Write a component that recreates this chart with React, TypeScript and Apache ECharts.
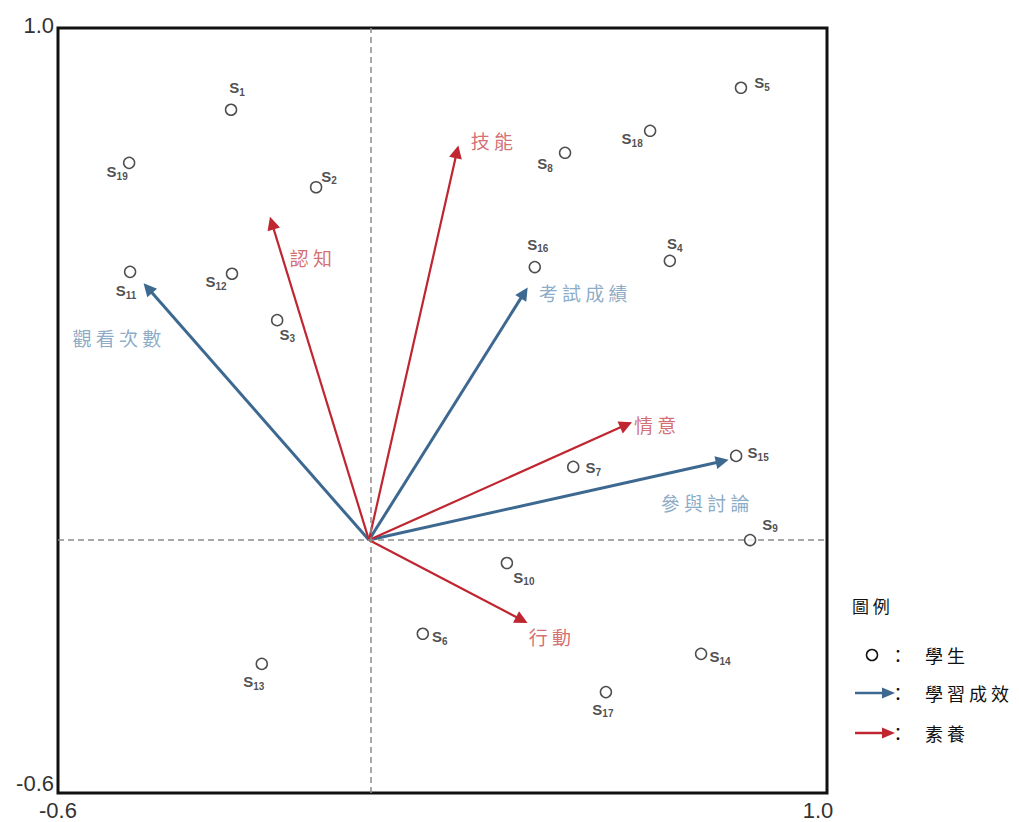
import React, { useEffect, useRef } from "react";
import * as echarts from "echarts";

// ---- axis ----
const axisMin = -0.6;
const axisMax = 1.0;
const axisTickLabels = [-0.6, 1.0];

// ---- reference origin of the vectors (where dashed lines cross) ----
const originX = 0.047;
const originY = -0.071;

// ---- students ----
const studentNames = ["S1", "S2", "S3", "S4", "S5", "S6", "S7", "S8", "S9", "S10", "S11", "S12", "S13", "S14", "S15", "S16", "S17", "S18", "S19"];
const studentX = [-0.240, -0.063, -0.144, 0.673, 0.821, 0.159, 0.472, 0.455, 0.840, 0.334, -0.450, -0.238, -0.176, 0.738, 0.811, 0.392, 0.540, 0.632, -0.452];
const studentY = [0.829, 0.667, 0.389, 0.513, 0.875, -0.267, 0.082, 0.739, -0.071, -0.119, 0.490, 0.486, -0.330, -0.309, 0.105, 0.500, -0.389, 0.785, 0.718];
// label placement (layout only, px offsets from the point)
const studentLabelOffset = [
  [6, -22], [13, -11], [10, 14], [5, -17], [21, -5], [17, 3], [20, 1], [-20, 11], [20, -16], [17, 14],
  [-4, 19], [-16, 8], [-8, 18], [19, 3], [22, -3], [3, -23], [-3, 17], [-18, 8], [-12, 9],
];

// ---- learning outcome vectors (blue) ----
const outcomeNames = ["觀看次數", "考試成績", "參與討論"];
const outcomeX = [-0.413, 0.370, 0.782];
const outcomeY = [0.456, 0.446, 0.094];
const outcomeLabelOffset = [[-31, 49], [59, 0], [-17, 41]];

// ---- literacy vectors (red) ----
const literacyNames = ["技能", "認知", "情意", "行動"];
const literacyX = [0.230, -0.155, 0.582, 0.365];
const literacyY = [0.741, 0.592, 0.170, -0.238];
const literacyLabelOffset = [[35, -11], [39, 34], [29, 0], [28, 17]];

// ---- legend ----
const legendTitle = "圖例";
const legendItems = ["學生", "學習成效", "素養"];

const BLUE = "#3d6890";
const RED = "#bf2630";
const BLUE_TXT = "#7096b8";
const RED_TXT = "#c94a4d";
const CJK = "'Noto Sans CJK TC', 'Noto Sans CJK SC', sans-serif";
const spaced = (s: string) => s.split("").join(" ");

export default function App() {
  const ref = useRef<HTMLDivElement>(null);
  useEffect(() => {
    if (!ref.current) return;
    const chart = echarts.init(ref.current, undefined, { renderer: "svg" });

    const studentData = studentNames.map((n, i) => ({
      value: [studentX[i], studentY[i]],
      name: n,
      label: { offset: studentLabelOffset[i] },
    }));

    const arrowSeries = (names: string[], xs: number[], ys: number[], color: string, width: number) => ({
      type: "lines",
      coordinateSystem: "cartesian2d",
      z: 3,
      silent: true,
      symbol: ["none", "triangle"],
      symbolSize: 13,
      lineStyle: { color, width, opacity: 1, curveness: 0 },
      data: names.map((n, i) => ({ name: n, coords: [[originX, originY], [xs[i], ys[i]]] })),
    });

    const arrowLabelSeries = (names: string[], xs: number[], ys: number[], offs: number[][], color: string) => ({
      type: "scatter",
      z: 6,
      silent: true,
      symbolSize: 1,
      itemStyle: { color: "rgba(0,0,0,0)" },
      label: {
        show: true,
        position: "inside",
        formatter: (p: any) => spaced(String(p.name)),
        color,
        fontFamily: CJK,
        fontSize: 19,
      },
      data: names.map((n, i) => ({ name: n, value: [xs[i], ys[i]], label: { offset: offs[i] } })),
    });

    const legendY = [655, 693, 733];
    const graphic: any[] = [
      { type: "text", left: 852, top: 597, style: { text: spaced(legendTitle), font: `17px ${CJK}`, fill: "#111" } },
      { type: "circle", shape: { cx: 872, cy: legendY[0], r: 5.5 }, style: { stroke: "#111", lineWidth: 1.5, fill: "#fff" } },
      { type: "line", shape: { x1: 855, y1: legendY[1], x2: 884, y2: legendY[1] }, style: { stroke: BLUE, lineWidth: 2.5 } },
      { type: "polygon", shape: { points: [[882, legendY[1] - 5.5], [895, legendY[1]], [882, legendY[1] + 5.5]] }, style: { fill: BLUE } },
      { type: "line", shape: { x1: 855, y1: legendY[2], x2: 884, y2: legendY[2] }, style: { stroke: RED, lineWidth: 2.5 } },
      { type: "polygon", shape: { points: [[882, legendY[2] - 5.5], [895, legendY[2]], [882, legendY[2] + 5.5]] }, style: { fill: RED } },
    ];
    legendItems.forEach((t, i) => {
      graphic.push({ type: "text", x: 898, y: legendY[i], style: { text: "：", font: `18px ${CJK}`, fill: "#111", align: "center", verticalAlign: "middle" } });
      graphic.push({ type: "text", x: 925, y: legendY[i], style: { text: spaced(t), font: `18px ${CJK}`, fill: "#111", align: "left", verticalAlign: "middle" } });
    });

    const labelFont = "'Liberation Sans', Arial, sans-serif";

    chart.setOption({
      animation: false,
      grid: { left: 58, top: 28, width: 769, height: 765, show: true, borderColor: "#111", borderWidth: 3, backgroundColor: "#fff" },
      xAxis: {
        type: "value",
        min: axisMin,
        max: axisMax,
        axisLine: { show: false },
        axisTick: { show: false },
        splitLine: { show: false },
        axisLabel: {
          customValues: axisTickLabels,
          margin: 6,
          formatter: (v: number) => (v < 0 ? `{lo|${v.toFixed(1)}}` : `{hi|${v.toFixed(1)}}`),
          rich: {
            lo: { fontSize: 22, color: "#333", fontFamily: labelFont },
            hi: { fontSize: 22, color: "#333", fontFamily: labelFont, padding: [0, 18, 0, 0] },
          },
        },
      },
      yAxis: {
        type: "value",
        min: axisMin,
        max: axisMax,
        axisLine: { show: false },
        axisTick: { show: false },
        splitLine: { show: false },
        axisLabel: {
          customValues: axisTickLabels,
          margin: 4,
          formatter: (v: number) => (v < 0 ? `{lo|${v.toFixed(1)}}` : `{hi|${v.toFixed(1)}}`),
          rich: {
            lo: { fontSize: 22, color: "#333", fontFamily: labelFont, padding: [0, 0, 20, 0] },
            hi: { fontSize: 22, color: "#333", fontFamily: labelFont, padding: [0, 0, 6, 0] },
          },
        },
      },
      graphic,
      series: [
        {
          type: "line",
          data: [],
          z: 1,
          silent: true,
          markLine: {
            silent: true,
            symbol: "none",
            label: { show: false },
            lineStyle: { type: [6, 4], color: "#8c8c8c", width: 1.5 },
            data: [{ xAxis: originX }, { yAxis: originY }],
          },
        },
        arrowSeries(outcomeNames, outcomeX, outcomeY, BLUE, 3),
        arrowSeries(literacyNames, literacyX, literacyY, RED, 2.2),
        arrowLabelSeries(outcomeNames, outcomeX, outcomeY, outcomeLabelOffset, BLUE_TXT),
        arrowLabelSeries(literacyNames, literacyX, literacyY, literacyLabelOffset, RED_TXT),
        {
          type: "scatter",
          z: 5,
          silent: true,
          symbol: "circle",
          symbolSize: 11,
          itemStyle: { color: "#fff", borderColor: "#222", borderWidth: 1.5 },
          label: {
            show: true,
            position: "inside",
            formatter: (p: any) => `{s|S}{n|${String(p.name).slice(1)}}`,
            rich: {
              s: { fontSize: 15, fontWeight: "bold", color: "#222", fontFamily: labelFont, lineHeight: 18, verticalAlign: "middle" },
              n: { fontSize: 10, fontWeight: "bold", color: "#222", fontFamily: labelFont, lineHeight: 18, padding: [9, 0, 0, 0] },
            },
          },
          data: studentData,
        },
      ],
    });
    return () => chart.dispose();
  }, []);
  return <div ref={ref} style={{ position: "absolute", left: 0, top: 0, width: 1019, height: 822, background: "#fff" }} />;
}
